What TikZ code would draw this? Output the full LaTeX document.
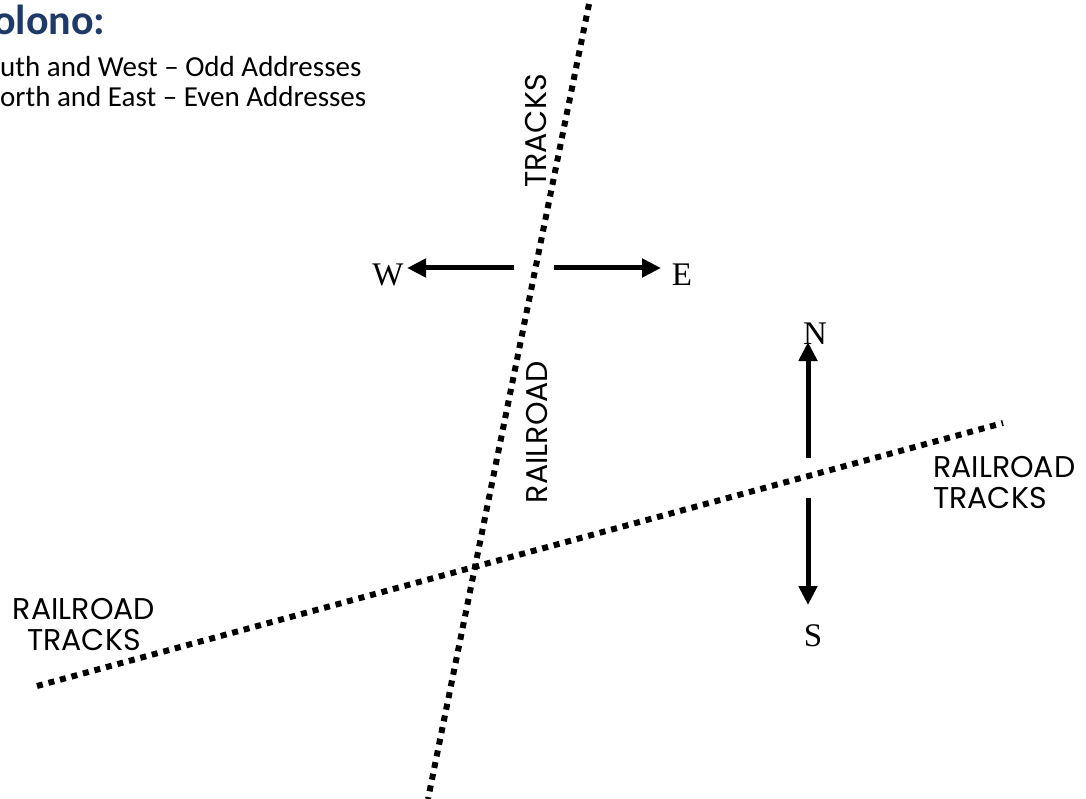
\documentclass[tikz,border=0pt]{standalone}
\usepackage{fontspec}
\setmainfont{Liberation Serif}
\newfontfamily\calib{Carlito}
\newfontfamily\geo{Poppins}
\usetikzlibrary{arrows.meta}
\definecolor{titleblue}{HTML}{1F3A68}
\tikzset{
  track/.style={line width=6pt, dash pattern=on 6pt off 5.9pt},
  compass/.style={line width=5pt, -{Triangle[length=19pt,width=18pt]}},
  dirlabel/.style={inner sep=0pt, font=\fontsize{33}{33}\selectfont},
  raillabel/.style={inner sep=0pt, font=\geo\fontsize{30}{31}\selectfont},
  bodytext/.style={inner sep=0pt, anchor=base west, font=\calib\fontsize{29}{30}\selectfont},
}
\begin{document}
\begin{tikzpicture}[x=1pt,y=-1pt]
\useasboundingbox (0,0) rectangle (1086,799);
\begin{scope}
\clip (0,0) rectangle (1086,799);
% title and text
\node[bodytext, font=\calib\bfseries\fontsize{42}{42}\selectfont, text=titleblue] (title) at (-7,35) {olono:};
\node[bodytext] (odd) at (0,77) {uth and West – Odd Addresses};
\node[bodytext] (even) at (0,107) {orth and East – Even Addresses};
% tracks
\coordinate (t1a) at (589,4);
\coordinate (t1b) at (428,799);
\coordinate (t2a) at (37,686);
\coordinate (t2b) at (1003,423);
\draw[track] (t1a) -- (t1b);
\draw[track] (t2a) -- (t2b);
% labels
\node[raillabel, rotate=90] (tracksv) at (536,131) {TRACKS};
\node[raillabel, rotate=90] (railv) at (537,432) {RAILROAD};
\node[raillabel, align=center] (railbl) at (84,625) {RAILROAD\\TRACKS};
\node[raillabel, align=left, anchor=north west] (railr) at (933,456) {RAILROAD\\TRACKS};
% compass
\coordinate (wstart) at (514,268);
\coordinate (wtip) at (407,268);
\coordinate (estart) at (554,268);
\coordinate (etip) at (661,268);
\coordinate (nstart) at (808,458);
\coordinate (ntip) at (808,342);
\coordinate (sstart) at (808,498);
\coordinate (stip) at (808,605);
\node[dirlabel] (W) at (388,275) {W};
\node[dirlabel] (E) at (682,275) {E};
\node[dirlabel] (N) at (815,334) {N};
\node[dirlabel] (S) at (813,636) {S};
\draw[compass] (wstart) -- (wtip);
\draw[compass] (estart) -- (etip);
\draw[compass] (nstart) -- (ntip);
\draw[compass] (sstart) -- (stip);
\end{scope}
\end{tikzpicture}
\end{document}
